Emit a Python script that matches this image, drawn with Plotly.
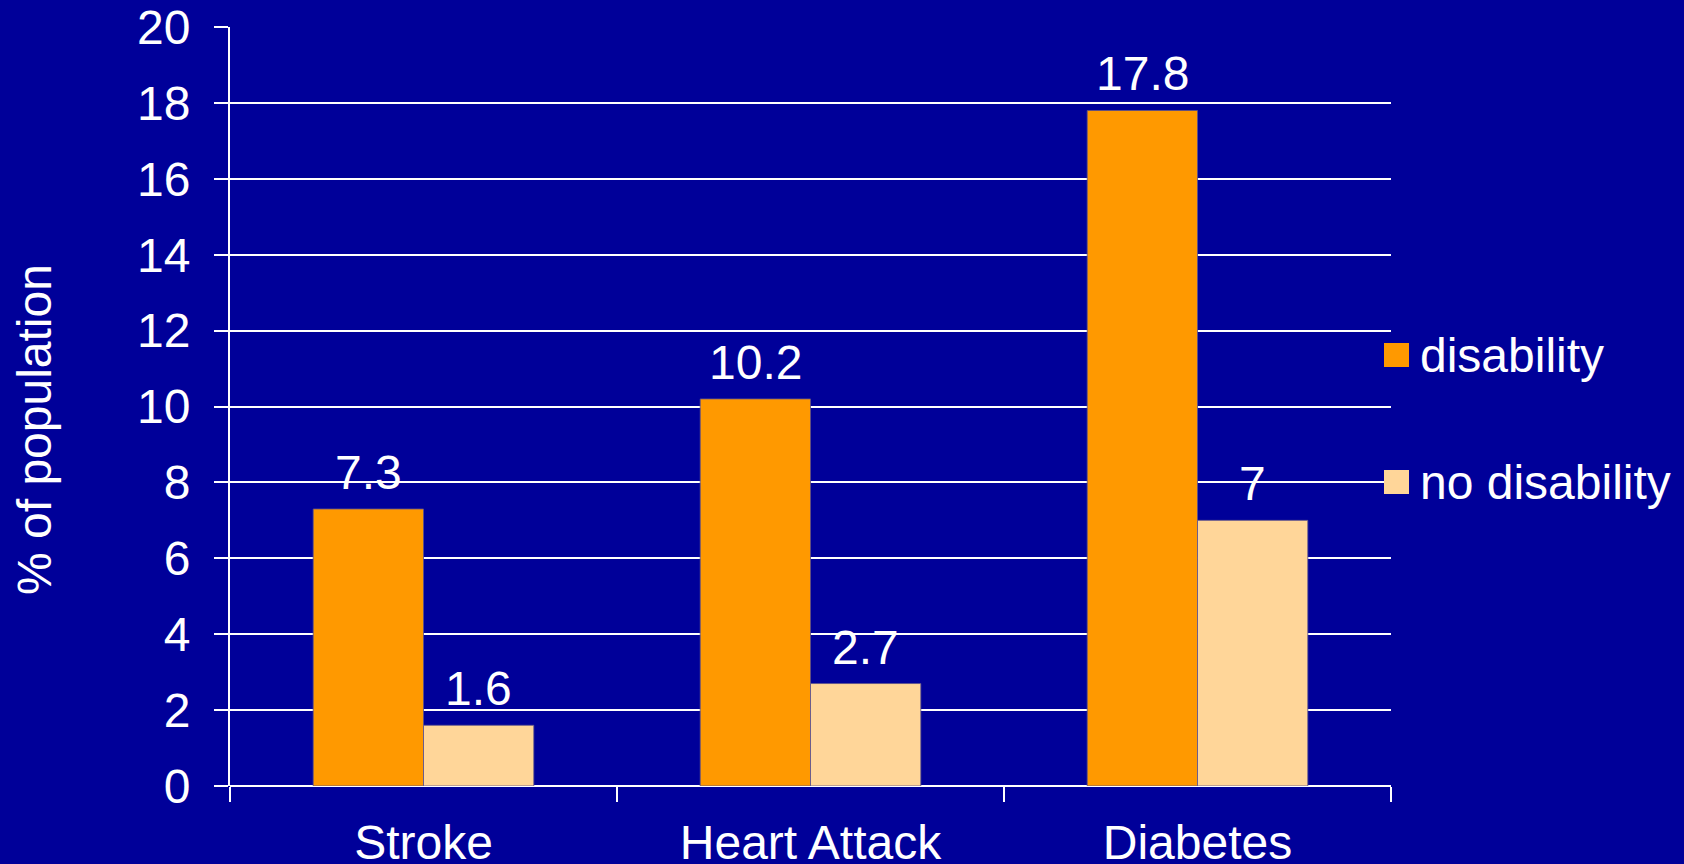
import plotly.graph_objects as go

categories = ["Stroke", "Heart Attack", "Diabetes"]
disability = [7.3, 10.2, 17.8]
no_disability = [1.6, 2.7, 7]
series_names = ["disability", "no disability"]
y_ticks = [0, 2, 4, 6, 8, 10, 12, 14, 16, 18, 20]

BG = "#000099"
ORANGE = "#FF9900"
PEACH = "#FFD699"
FONT = "Liberation Sans, Arial, sans-serif"
FS = 48

# plot area in pixels
L, R, T, B = 230, 293, 27, 78
PW, PH = 1684 - L - R, 864 - T - B

fig = go.Figure()
for name, vals, col in [(series_names[0], disability, ORANGE),
                        (series_names[1], no_disability, PEACH)]:
    fig.add_trace(go.Bar(
        x=categories, y=vals, name=name,
        marker=dict(color=col, line=dict(color="rgba(90,80,140,0.8)", width=1)),
        showlegend=False,
    ))

# value labels above each bar
for vals, shift in [(disability, -55), (no_disability, 55)]:
    for c, v in zip(categories, vals):
        fig.add_annotation(x=c, y=v, text=f"{v:g}", showarrow=False,
                           xref="x", yref="y", yanchor="bottom", xshift=shift, yshift=8,
                           font=dict(size=FS, color="white", family=FONT))

# legend drawn as swatches + text
legend_items = [(series_names[0], ORANGE, 355), (series_names[1], PEACH, 482)]
for name, col, ypix in legend_items:
    yp = (864 - B - ypix) / PH
    fig.add_shape(type="rect", xref="paper", yref="paper",
                  x0=(1384 - L) / PW, x1=(1409 - L) / PW,
                  y0=yp - 12 / PH, y1=yp + 12 / PH,
                  line_width=0, fillcolor=col)
    fig.add_annotation(x=(1418 - L) / PW, y=yp, xref="paper", yref="paper",
                       text=name, showarrow=False, xanchor="left", yanchor="middle",
                       font=dict(size=FS, color="white", family=FONT))

# y-axis title
fig.add_annotation(x=(34 - L) / PW, y=(864 - B - 430) / PH, xref="paper", yref="paper",
                   text="% of population", textangle=-90, showarrow=False,
                   xanchor="center", yanchor="middle",
                   font=dict(size=FS, color="white", family=FONT))

fig.update_layout(
    width=1684, height=864,
    margin=dict(l=L, r=R, t=T, b=B),
    paper_bgcolor=BG, plot_bgcolor=BG,
    barmode="group", bargap=0.43, bargroupgap=0,
    font=dict(family=FONT, color="white"),
)
fig.update_xaxes(
    automargin=False,
    showgrid=False, showline=False, tickson="boundaries",
    ticks="outside", ticklen=15, tickwidth=2, tickcolor="white",
    ticklabelstandoff=24,
    tickfont=dict(size=FS, color="white", family=FONT),
    zeroline=False,
)
fig.update_yaxes(
    automargin=False,
    range=[0, 20], tickvals=y_ticks, ticktext=[str(t) for t in y_ticks],
    showgrid=True, gridcolor="white", gridwidth=2,
    showline=True, linecolor="white", linewidth=2,
    ticks="outside", ticklen=14, tickwidth=2, tickcolor="white",
    ticklabelstandoff=14,
    tickfont=dict(size=FS, color="white", family=FONT),
    zeroline=True, zerolinecolor="white", zerolinewidth=2,
)

fig.write_html("out.html")
